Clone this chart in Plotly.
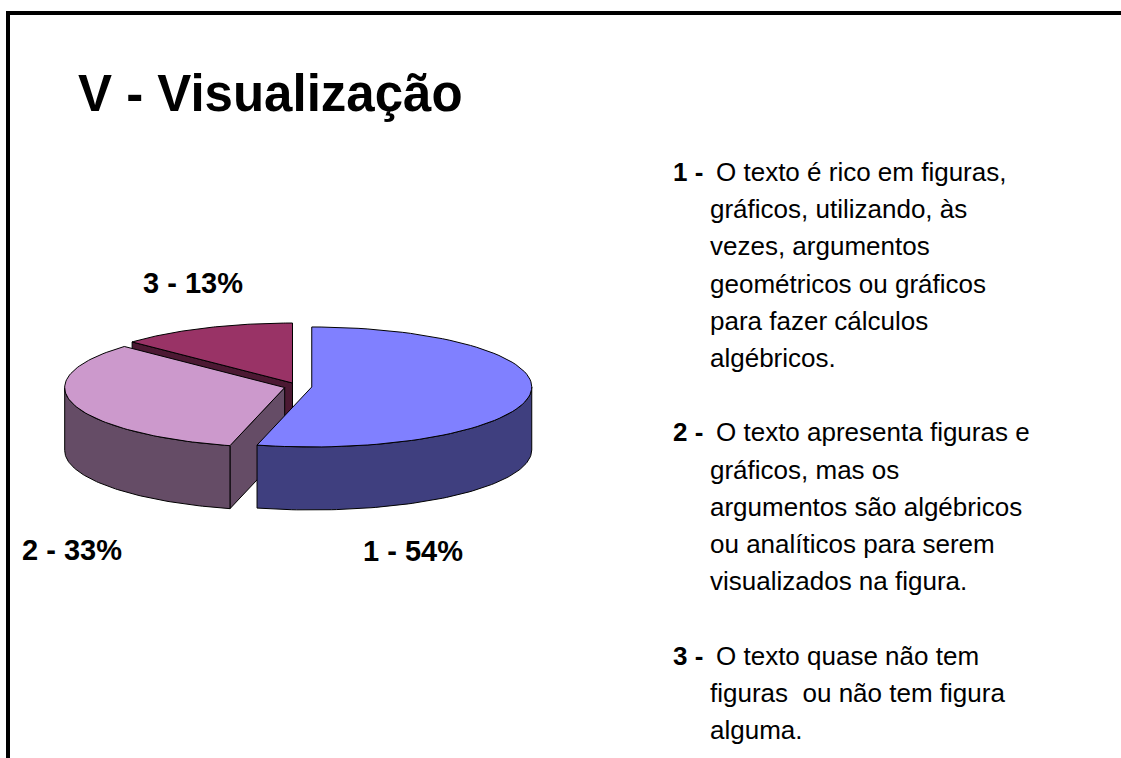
import math
import plotly.graph_objects as go

# ---------------- data ----------------
categories = ["1", "2", "3"]
values = [54, 33, 13]
title_text = "V - Visualização"
descriptions = [
    ["O texto é rico em figuras,", "gráficos, utilizando, às", "vezes, argumentos",
     "geométricos ou gráficos", "para fazer cálculos", "algébricos."],
    ["O texto apresenta figuras e", "gráficos, mas os", "argumentos são algébricos",
     "ou analíticos para serem", "visualizados na figura."],
    ["O texto quase não tem", "figuras  ou não tem figura", "alguma."],
]

# ---------------- style ----------------
top_colors = ["#8080FF", "#CC99CC", "#993366"]
side_colors = ["#3F3F7F", "#654C66", "#4C1933"]
label_pos = [(413, 551), (72, 550), (193, 283)]  # pixel positions of slice labels

W, H = 1121, 758
CX, CY = 298.0, 386.5      # pie centre (pixels)
A, B = 220.0, 60.0         # ellipse semi-axes
DEPTH = 63.0
EXPLODE = 0.063
FONT = "Liberation Sans, Arial, sans-serif"

fig = go.Figure()


def pt(cx, cy, ang, dz=0.0):
    r = math.radians(ang)
    return cx + A * math.cos(r), cy - B * math.sin(r) + dz


def arc(cx, cy, a1, a2, dz=0.0, n=80):
    pts = []
    for k in range(n + 1):
        a = a1 + (a2 - a1) * k / n
        pts.append(pt(cx, cy, a, dz))
    return pts


def poly(points, fill):
    xs = [p[0] for p in points] + [points[0][0]]
    ys = [p[1] for p in points] + [points[0][1]]
    fig.add_trace(go.Scatter(x=xs, y=ys, mode="lines", fill="toself",
                             fillcolor=fill, line=dict(color="black", width=1),
                             hoverinfo="skip", showlegend=False))


total = float(sum(values))
slices = []
cum = 0.0
for i, v in enumerate(values):
    a_start = 90 - 360 * cum / total
    a_end = a_start - 360 * v / total
    cum += v
    mid = math.radians((a_start + a_end) / 2)
    cx = CX + EXPLODE * A * math.cos(mid)
    cy = CY - EXPLODE * B * math.sin(mid)
    slices.append((i, a_start, a_end, cx, cy))

for i, a_start, a_end, cx, cy in reversed(slices):
    # radial faces
    for ang, sign in ((a_start, -1), (a_end, 1)):
        c = math.cos(math.radians(ang))
        if c * sign > 1e-6:
            rim_t = pt(cx, cy, ang)
            rim_b = pt(cx, cy, ang, DEPTH)
            poly([(cx, cy), rim_t, rim_b, (cx, cy + DEPTH)], side_colors[i])
    # outer wall (front half only)
    for k in range(-2, 2):
        lo, hi = -180 + 360 * k, 0 + 360 * k
        a1, a2 = max(a_end, lo), min(a_start, hi)
        if a2 - a1 > 1e-6:
            top = arc(cx, cy, a2, a1)
            bot = arc(cx, cy, a1, a2, DEPTH)
            poly(top + bot, side_colors[i])
    # top face
    poly([(cx, cy)] + arc(cx, cy, a_start, a_end), top_colors[i])

# slice labels
for i, (cat, v) in enumerate(zip(categories, values)):
    x, y = label_pos[i]
    fig.add_annotation(x=x, y=y, text=f"<b>{cat} - {v}%</b>", showarrow=False,
                       xanchor="center", yanchor="middle",
                       font=dict(family=FONT, size=29, color="black"))

# title
fig.add_annotation(x=76, y=93, text=f"<b>{title_text}</b>", showarrow=False,
                   xanchor="left", yanchor="middle",
                   font=dict(family=FONT, size=51, color="black"))

# description list
LINE0, STEP = 172.0, 37.2
n = 0
for cat, lines in zip(categories, descriptions):
    for j, line in enumerate(lines):
        y = LINE0 + STEP * n
        if j == 0:
            fig.add_annotation(x=671, y=y, text=f"<b>{cat} -</b>", showarrow=False,
                               xanchor="left", yanchor="middle",
                               font=dict(family=FONT, size=26, color="black"))
            x0 = 714
        else:
            x0 = 708
        fig.add_annotation(x=x0, y=y, text=line, showarrow=False,
                           xanchor="left", yanchor="middle",
                           font=dict(family=FONT, size=26, color="black"))
        n += 1
    n += 1

# frame
fig.add_shape(type="line", x0=6, x1=W + 5, y0=13, y1=13,
              line=dict(color="black", width=4))
fig.add_shape(type="line", x0=8, x1=8, y0=11, y1=H + 5,
              line=dict(color="black", width=4))

fig.update_xaxes(range=[0, W], visible=False, fixedrange=True)
fig.update_yaxes(range=[H, 0], visible=False, fixedrange=True)
fig.update_layout(width=W, height=H, margin=dict(l=0, r=0, t=0, b=0),
                  paper_bgcolor="white", plot_bgcolor="white",
                  showlegend=False, autosize=False)

fig.write_html("out.html", config={"displayModeBar": False},
               post_script="document.body.style.margin='0px';"
                           "document.body.style.overflow='hidden';")
